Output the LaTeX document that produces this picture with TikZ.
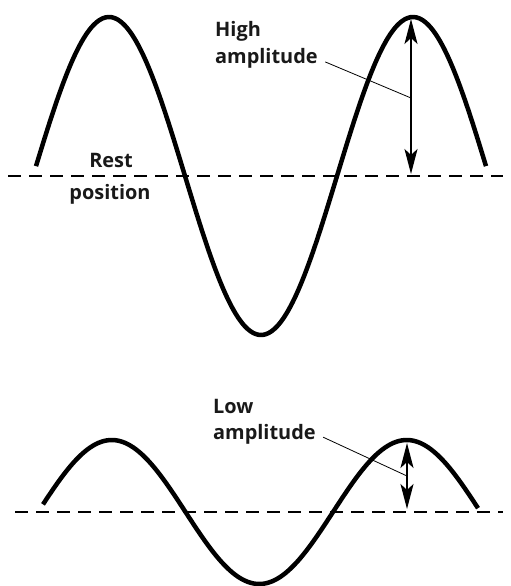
\documentclass[tikz,border=0pt]{standalone}
\usepackage{fontspec}
\setmainfont{Open Sans}
\usetikzlibrary{positioning,arrows.meta}

\tikzset{
  onda/.style={line width=4.5bp, line cap=butt},
  riposo/.style={line width=1.8bp, dash pattern=on 13bp off 8bp},
  lbl/.style={font=\bfseries\fontsize{20}{22}\selectfont, inner sep=0pt, text=black!90},
  punta/.tip={Stealth[length=25bp,width=13bp,inset=6bp]},
  ampiezza/.style={line width=2bp, punta-punta},
  leader/.style={line width=0.8bp, shorten <=8bp},
}

\begin{document}
\begin{tikzpicture}[x=1bp, y=-1bp]
    \useasboundingbox (0,0) rectangle (511,586);

    % onda ad alta ampiezza
    \draw[riposo] (8,176) -- (503,176);
    \draw[onda] plot[domain=36:486, samples=150, smooth] (\x, {176-159*sin((\x-33)/304*360)});

    \coordinate (hicima) at (411,19);
    \coordinate (hibase) at (411,174);
    \coordinate (hipt) at (411,98);
    \draw[ampiezza] (hicima) -- (hibase);

    \node[lbl, anchor=base west] (hi) at (215,37) {High};
    \node[lbl, anchor=base west] (hiamp) at (215,64) {amplitude};
    \draw[leader] (hiamp.east) -- (hipt);

    \node[lbl, anchor=base] (rest) at (111,168) {Rest};
    \node[lbl, anchor=base] (pos) at (110,199) {position};

    % onda a bassa ampiezza
    \draw[riposo] (15,512) -- (503,512);
    \draw[onda] plot[domain=43:478, samples=150, smooth] (\x, {512-72*sin((\x-38)/295*360)});

    \coordinate (locima) at (407,443);
    \coordinate (lobase) at (407,509);
    \coordinate (lopt) at (407,476);
    \draw[ampiezza] (locima) -- (lobase);

    \node[lbl, anchor=base west] (lo) at (213,413) {Low};
    \node[lbl, anchor=base west] (loamp) at (213,439) {amplitude};
    \draw[leader] (loamp.east) -- (lopt);
\end{tikzpicture}
\end{document}
